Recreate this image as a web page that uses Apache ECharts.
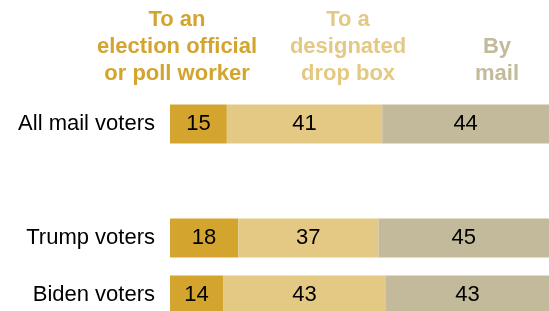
<!DOCTYPE html>
<html>
<head>
<meta charset="utf-8">
<script src="https://cdn.jsdelivr.net/npm/echarts@6/dist/echarts.min.js"></script>
<style>
  html, body { margin: 0; padding: 0; background: #fff; }
  #chart { width: 549px; height: 311px; }
</style>
</head>
<body>
<div id="chart"></div>
<script>
// rows (empty one is the gap between the total and the candidate groups)
var categories = ['All mail voters', '', 'Trump voters', 'Biden voters'];
var officialVals = [15, '-', 18, 14];
var dropBoxVals = [41, '-', 37, 43];
var mailVals = [44, '-', 45, 43];

var headerFont = 'bold 22px "Liberation Sans", Arial, sans-serif';
var colors = ['#d3a52f', '#e3c984', '#c3ba9c'];

function seg(name, data, color) {
	return {
		name: name,
		type: 'bar',
		stack: 'all',
		barWidth: 39,
		itemStyle: { color: color },
		label: {
			show: true,
			position: 'inside',
			color: '#000',
			fontSize: 22,
			fontFamily: 'Liberation Sans, Arial, sans-serif'
		},
		data: data
	};
}

function header(x, y, text, color) {
	return {
		type: 'text',
		style: {
			x: x, y: y,
			text: text,
			align: 'center',
			verticalAlign: 'top',
			fill: color,
			font: headerFont,
			lineHeight: 27
		}
	};
}

var chart = echarts.init(document.getElementById('chart'));
var option = {
	animation: false,
	// rows sit on the ticks (boundaryGap false), so the last bar can run off the bottom edge
	grid: { left: 170, top: 124, right: -4, bottom: 16 },
	xAxis: {
		type: 'value',
		min: 0,
		max: 100,
		show: false
	},
	yAxis: {
		type: 'category',
		inverse: true,
		boundaryGap: false,
		data: categories,
		axisLine: { show: false },
		axisTick: { show: false },
		splitLine: { show: false },
		axisLabel: {
			color: '#000',
			fontSize: 22,
			margin: 15,
			fontFamily: 'Liberation Sans, Arial, sans-serif'
		}
	},
	graphic: [
		header(177, 6, 'To an\nelection official\nor poll worker', colors[0]),
		header(348, 6, 'To a\ndesignated\ndrop box', colors[1]),
		header(497, 33, 'By\nmail', colors[2])
	],
	series: [
		seg('To an election official or poll worker', officialVals, colors[0]),
		seg('To a designated drop box', dropBoxVals, colors[1]),
		seg('By mail', mailVals, colors[2])
	]
};
chart.setOption(option);
</script>
</body>
</html>
